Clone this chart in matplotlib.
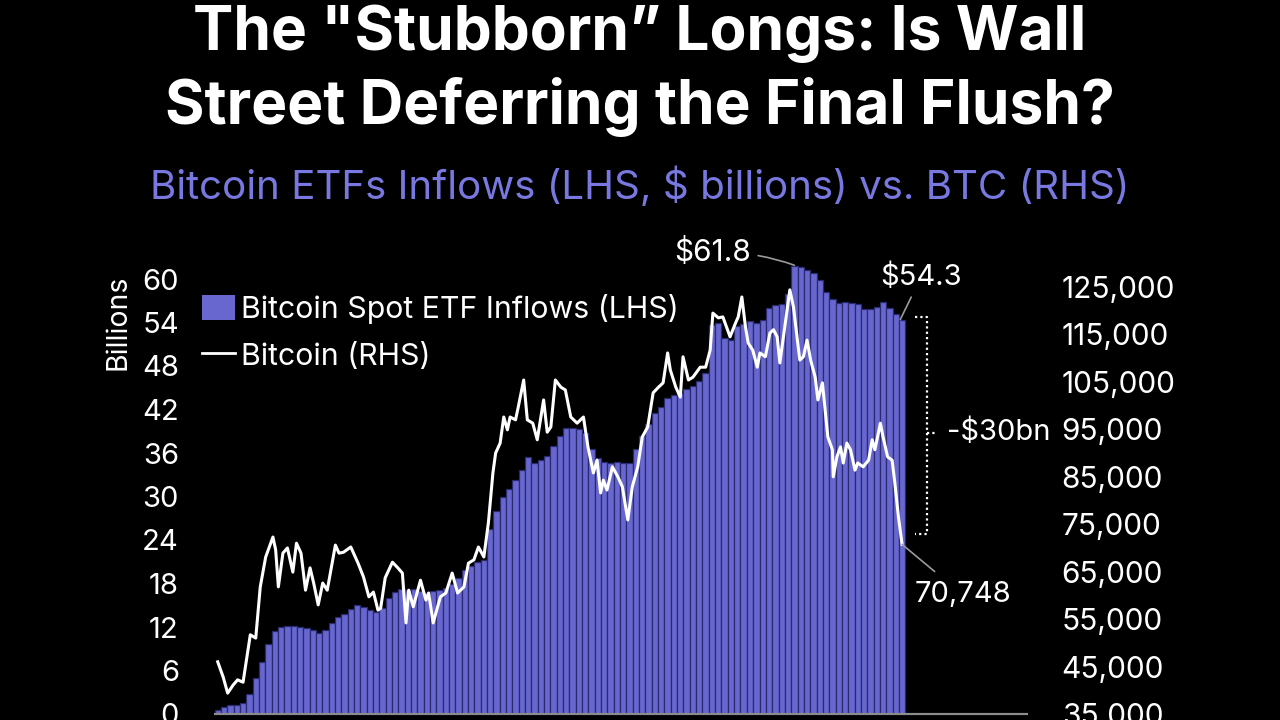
import matplotlib.pyplot as plt
from matplotlib.lines import Line2D
from matplotlib.patches import Patch

# cumulative spot ETF net inflows, $bn, one bar per week from launch (Jan 2024)
etf_cum = [0.5, 1.0, 1.2, 1.3, 1.5, 2.7, 5.0, 7.2, 9.6, 11.4,
           12.0, 12.1, 12.2, 12.0, 11.8, 11.6, 11.2, 11.6, 12.5, 13.4,
           13.8, 14.5, 15.0, 14.8, 14.3, 14.1, 14.6, 16.0, 16.8, 17.2,
           17.1, 17.3, 17.0, 16.7, 16.9, 17.1, 17.4, 18.0, 18.8, 19.8,
           20.4, 20.9, 21.3, 25.5, 28.0, 29.9, 31.0, 32.3, 33.6, 35.4,
           34.6, 35.0, 35.6, 37.0, 38.4, 39.4, 39.5, 39.3, 38.7, 36.6,
           35.3, 34.8, 34.6, 34.7, 34.6, 34.6, 36.5, 38.4, 40.0, 41.5,
           42.4, 43.6, 44.0, 44.3, 44.8, 45.2, 46.0, 47.0, 53.6, 54.0,
           51.8, 51.6, 53.5, 53.8, 54.2, 54.0, 54.3, 56.0, 56.4, 56.6,
           58.0, 61.8, 61.6, 61.2, 60.8, 59.8, 58.2, 57.2, 56.7, 56.8,
           56.7, 56.6, 55.8, 55.9, 56.2, 56.8, 56.0, 55.2, 54.3]
etf_day = [7 * i for i in range(len(etf_cum))]

# BTC price (days since Jan 11 2024)
btc_day = [0, 6, 11, 17, 22, 28, 33, 36, 42, 47,
           53, 61, 64, 67, 72, 77, 83, 87, 92, 97,
           102, 106, 111, 116, 121, 127, 130, 134, 139, 147,
           155, 161, 167, 172, 177, 180, 185, 193, 199, 204,
           208, 211, 216, 224, 230, 233, 238, 246, 252, 259,
           265, 272, 277, 283, 288, 294, 299, 304, 307, 312,
           316, 320, 323, 329, 332, 338, 342, 348, 353, 357,
           360, 364, 368, 373, 379, 384, 390, 397, 404, 409,
           415, 419, 423, 426, 430, 436, 442, 447, 453, 458,
           464, 469, 475, 481, 487, 492, 497, 500, 506, 511,
           514, 520, 525, 533, 539, 544, 547, 553, 558, 566,
           572, 575, 579, 583, 586, 591, 596, 599, 605, 610,
           614, 618, 621, 627, 632, 636, 640, 643, 647, 651,
           655, 660, 663, 668, 671, 674, 679, 680, 684, 688,
           691, 695, 699, 704, 707, 713, 719, 723, 726, 732,
           735, 740, 745, 748, 752, 756]
btc_k = [46.0, 42.8, 39.4, 41.1, 42.2, 41.7, 47.9, 51.7, 51.0, 61.8,
         68.1, 72.3, 69.6, 61.8, 68.9, 70.0, 64.9, 71.0, 68.9, 61.1,
         65.8, 62.6, 58.0, 62.6, 61.1, 67.5, 70.6, 68.9, 69.1, 70.2,
         66.8, 63.9, 59.7, 60.7, 56.9, 57.3, 63.7, 67.0, 65.8, 64.7,
         54.2, 61.1, 57.6, 63.2, 59.0, 60.5, 54.2, 59.7, 60.5, 64.7,
         60.5, 61.8, 66.8, 67.5, 70.2, 68.1, 75.3, 85.8, 90.0, 92.1,
         97.6, 94.9, 97.6, 97.0, 99.7, 105.4, 97.0, 96.3, 92.8, 97.6,
         101.2, 94.4, 95.5, 105.4, 103.9, 103.3, 97.6, 96.3, 97.6, 91.3,
         85.8, 88.5, 81.6, 84.3, 82.2, 87.1, 85.0, 82.9, 75.9, 82.9,
         87.1, 93.4, 95.5, 102.7, 103.9, 104.8, 111.1, 107.5, 103.9, 101.8,
         110.3, 105.4, 106.0, 108.1, 108.1, 111.7, 119.5, 118.5, 118.7, 114.5,
         117.4, 118.7, 122.9, 116.6, 113.2, 111.7, 108.1, 111.1, 110.3, 115.3,
         116.0, 114.5, 109.0, 117.4, 124.4, 120.8, 114.5, 109.6, 110.3, 113.8,
         109.6, 106.0, 101.2, 104.8, 99.1, 93.4, 90.7, 85.0, 89.2, 91.3,
         87.9, 92.1, 90.7, 86.4, 87.9, 87.1, 88.5, 92.8, 90.7, 96.3,
         93.4, 89.2, 88.5, 83.7, 76.5, 70.748]
btc_price = [v * 1000 for v in btc_k]

left_ticks = list(range(0, 61, 6))
right_ticks = list(range(35000, 125001, 10000))

FONT = 'Inter'
BAR_BLUE = '#6767cf'
plt.rcParams['font.family'] = [FONT, 'DejaVu Sans']

fig = plt.figure(figsize=(12.8, 7.2), dpi=100, facecolor='black')
ax = fig.add_axes([215 / 1280, 6 / 720, 812 / 1280, 464 / 720])
ax.set_facecolor('black')
ax2 = ax.twinx()

ax.bar(etf_day, etf_cum, width=7, color=BAR_BLUE, edgecolor='#2a2a70', linewidth=0.9)
ax2.plot(btc_day, btc_price, color='white', lw=2.2)

ax.set_xlim(-3, 894)
ax.set_ylim(0, 64.0)
ax2.set_ylim(35000, 132800)

ax.set_yticks(left_ticks)
ax2.set_yticks(right_ticks)
ax2.set_yticklabels(['{:,}'.format(t) for t in right_ticks])
ax.set_xticks([])
ax.tick_params(axis='y', length=0, pad=26, labelcolor='white', labelsize=21)
ax2.tick_params(axis='y', length=0, pad=25, labelcolor='white', labelsize=21.5)

for a in (ax, ax2):
    for side in ('top', 'left', 'right'):
        a.spines[side].set_visible(False)
    a.spines['bottom'].set_color('#8c8c8c')
    a.spines['bottom'].set_linewidth(1.5)

fig.text(118 / 1280, 1 - 322 / 720, 'Billions', color='white', fontsize=20.5,
         rotation=90, ha='center', va='center')

# titles
fig.text(0.5, 1 - 50 / 720, 'The "Stubborn\u201d Longs: Is Wall', color='white',
         fontsize=43.5, fontweight='bold', ha='center', va='baseline')
fig.text(0.5, 1 - 124 / 720, 'Street Deferring the Final Flush?', color='white',
         fontsize=43.5, fontweight='bold', ha='center', va='baseline')
fig.text(0.5, 1 - 199 / 720, 'Bitcoin ETFs Inflows (LHS, $ billions) vs. BTC (RHS)',
         color='#7878e0', fontsize=29, ha='center', va='baseline')

# legend
handles = [Patch(facecolor=BAR_BLUE, edgecolor='none'),
           Line2D([0], [0], color='white', lw=2)]
fig.legend(handles, ['Bitcoin Spot ETF Inflows (LHS)', 'Bitcoin (RHS)'],
           loc='upper left', bbox_to_anchor=(202 / 1280, 1 - 294 / 720),
           frameon=False, fontsize=21.8, labelcolor='white', handlelength=1.1,
           handleheight=0.85, handletextpad=0.2, labelspacing=0.6,
           borderpad=0, borderaxespad=0)

# annotations
grey = '#9a9a9a'
ax.annotate('$61.8', xy=(637, 61.9), xytext=(547, 63.6), color='white', fontsize=21.5,
            ha='center', va='center',
            arrowprops=dict(arrowstyle='-', color=grey, lw=1.2,
                            connectionstyle='arc3,rad=-0.1', shrinkA=3, shrinkB=0))
ax.annotate('$54.3', xy=(754, 54.4), xytext=(777, 60.3), color='white', fontsize=21,
            ha='center', va='center',
            arrowprops=dict(arrowstyle='-', color=grey, lw=1.2, shrinkA=3, shrinkB=0))
ax2.annotate('70,748', xy=(756, 70748), xytext=(823, 60100), color='white', fontsize=21,
             ha='center', va='center',
             arrowprops=dict(arrowstyle='-', color=grey, lw=1.2, shrinkA=8, shrinkB=0))

# bracket for the drawdown
bx0, bx1, top, bot, mid = 770, 784, 54.8, 24.8, 38.8
dots = dict(color='white', lw=1.6, ls=(0, (1, 1.4)), clip_on=False)
ax.plot([bx0, bx1, bx1, bx0], [top, top, bot, bot], **dots)
ax.plot([bx1, 792], [mid, mid], **dots)
ax.text(806, mid, '-$30bn', color='white', fontsize=21, ha='left', va='center')

fig.savefig('out.png', dpi=100, facecolor='black')
